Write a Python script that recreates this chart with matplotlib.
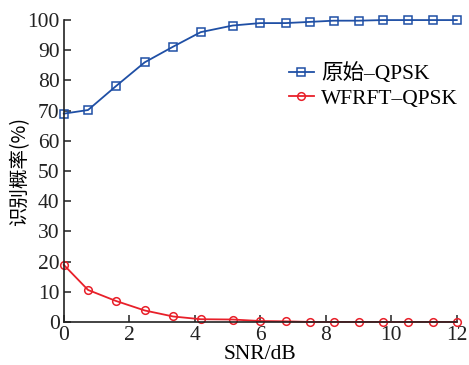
import matplotlib
matplotlib.use("Agg")
import matplotlib.pyplot as plt

snr = [0, 0.74, 1.58, 2.47, 3.34, 4.18, 5.16, 6.0, 6.77, 7.51, 8.24, 9.0, 9.74, 10.5, 11.27, 12.0]
orig_qpsk = [69, 70.2, 78, 86, 91.2, 96, 98.2, 99, 99, 99.4, 99.8, 99.8, 100, 100, 100, 100]
wfrft_qpsk = [18.9, 10.6, 7.0, 3.8, 1.8, 0.9, 0.8, 0.3, 0.2, 0, 0, 0, 0, 0, 0, 0]
xticks = [0, 2, 4, 6, 8, 10, 12]
yticks = list(range(0, 101, 10))
labels = ["原始–QPSK", "WFRFT–QPSK"]

plt.rcParams['font.family'] = ['Liberation Serif', 'Noto Sans CJK SC']
plt.rcParams['mathtext.fontset'] = 'stix'

fig = plt.figure(figsize=(4.69, 3.65), dpi=100)
ax = fig.add_axes([0.136, 0.118, 0.838, 0.827])

ax.plot(snr, orig_qpsk, color='#1f4fa5', lw=1.3, marker='s', ms=6,
        mfc='none', mew=1.1, label=labels[0], clip_on=False)
ax.plot(snr, wfrft_qpsk, color='#e8202a', lw=1.3, marker='o', ms=5.5,
        mfc='none', mew=1.1, label=labels[1], clip_on=False)

ax.set_xlim(0, 12)
ax.set_ylim(0, 100)
ax.set_xticks(xticks)
ax.set_yticks(yticks)
for s in ['top', 'right']:
    ax.spines[s].set_visible(False)
for s in ['left', 'bottom']:
    ax.spines[s].set_linewidth(1.2)
    ax.spines[s].set_color('#222222')
ax.tick_params(direction='in', length=5, width=1.1, labelsize=15.5, colors='#222222', pad=3)

ax.set_xlabel("SNR/dB", fontsize=15.5, labelpad=0)
ax.set_ylabel("识别概率(%)", fontsize=14, labelpad=-2,
              family=['Noto Sans CJK SC', 'Liberation Serif'], fontweight='light')

leg = ax.legend(loc='upper left', bbox_to_anchor=(0.55, 0.885), frameon=False,
                handlelength=1.2, handletextpad=0.3,
                labelspacing=0.2, borderaxespad=0,
                prop={'family': ['Liberation Serif', 'Noto Sans CJK SC'], 'size': 15.5})

fig.savefig("out.png", dpi=100)
